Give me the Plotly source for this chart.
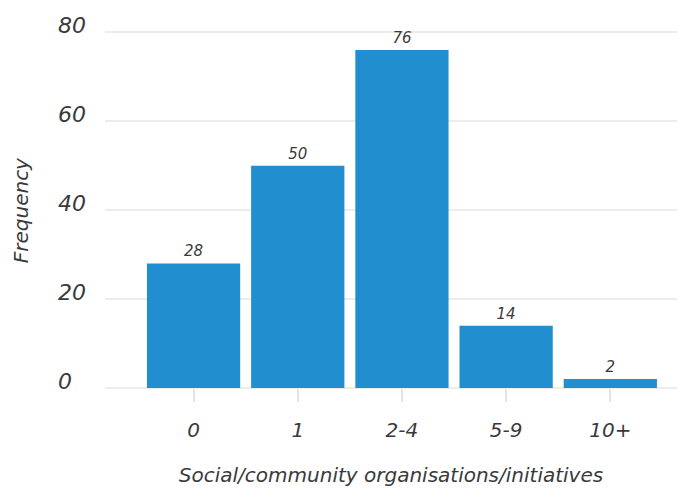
import plotly.graph_objects as go

# Number of social/community organisations or initiatives respondents take part in
categories = ["0", "1", "2-4", "5-9", "10+"]
frequency = [28, 50, 76, 14, 2]

y_tick_values = [0, 20, 40, 60, 80]
y_tick_labels = ["0\u2007", "20", "40", "60", "80"]

font_family = "DejaVu Sans"
text_color = "#3a3a3a"
bar_color = "#218ecf"
grid_color = "#ececec"

fig = go.Figure(
    go.Bar(
        x=categories,
        y=frequency,
        text=[str(v) for v in frequency],
        textposition="outside",
        cliponaxis=False,
        textfont=dict(family=font_family, size=15, color=text_color, style="italic"),
        marker=dict(color=bar_color, line=dict(width=0)),
    )
)

fig.update_layout(
    width=677,
    height=491,
    margin=dict(l=105, r=0, t=10, b=103),
    paper_bgcolor="white",
    plot_bgcolor="white",
    bargap=0.105,
    showlegend=False,
    font=dict(family=font_family, color=text_color),
    annotations=[
        dict(
            text="Frequency",
            xref="paper", yref="paper",
            x=-0.147, y=0.47,
            xanchor="center", yanchor="middle",
            textangle=-90,
            showarrow=False,
            font=dict(family=font_family, size=20, color=text_color, style="italic"),
        )
    ],
)

fig.update_xaxes(
    type="category",
    range=[-0.85, 4.64],
    showgrid=False,
    showline=False,
    zeroline=False,
    ticks="outside",
    ticklen=13,
    tickwidth=2,
    tickcolor="#e4e4e4",
    ticklabelstandoff=11,
    tickfont=dict(family=font_family, size=20, color=text_color, style="italic"),
    title=dict(
        text="Social/community organisations/initiatives",
        font=dict(family=font_family, size=20, color=text_color, style="italic"),
        standoff=26,
    ),
)

fig.update_yaxes(
    range=[0, 85],
    tickvals=y_tick_values,
    ticktext=y_tick_labels,
    showgrid=True,
    gridcolor=grid_color,
    gridwidth=2,
    zeroline=True,
    zerolinecolor=grid_color,
    zerolinewidth=2,
    showline=False,
    ticks="",
    ticklabelstandoff=18,
    ticklabelshift=-7,
    tickfont=dict(family=font_family, size=22, color=text_color, style="italic"),
)

fig.write_html("out.html")
